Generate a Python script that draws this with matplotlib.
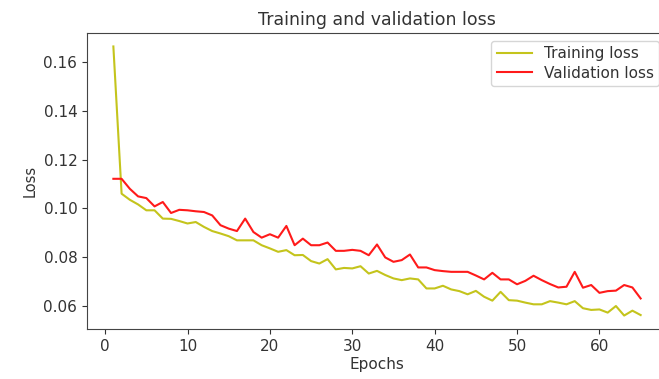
import matplotlib
matplotlib.use("Agg")
import matplotlib.pyplot as plt

epochs = list(range(1, 66))

training_loss = [
    0.1663, 0.1060, 0.1035, 0.1016, 0.0992, 0.0992, 0.0958, 0.0957, 0.0948, 0.0938,
    0.0944, 0.0924, 0.0907, 0.0897, 0.0886, 0.0869, 0.0869, 0.0869, 0.0849, 0.0836,
    0.0822, 0.0829, 0.0808, 0.0809, 0.0784, 0.0774, 0.0792, 0.0750, 0.0756, 0.0754,
    0.0763, 0.0733, 0.0744, 0.0727, 0.0713, 0.0706, 0.0713, 0.0709, 0.0672, 0.0672,
    0.0683, 0.0668, 0.0661, 0.0648, 0.0662, 0.0638, 0.0622, 0.0658, 0.0624, 0.0622,
    0.0614, 0.0607, 0.0607, 0.0620, 0.0614, 0.0607, 0.0620, 0.0591, 0.0584, 0.0586,
    0.0573, 0.0600, 0.0561, 0.0581, 0.0563,
]

validation_loss = [
    0.1121, 0.1121, 0.1080, 0.1049, 0.1042, 0.1008, 0.1026, 0.0981, 0.0994, 0.0992,
    0.0988, 0.0985, 0.0971, 0.0931, 0.0917, 0.0907, 0.0958, 0.0903, 0.0880, 0.0894,
    0.0880, 0.0928, 0.0849, 0.0876, 0.0849, 0.0849, 0.0860, 0.0826, 0.0826, 0.0830,
    0.0826, 0.0808, 0.0852, 0.0799, 0.0781, 0.0788, 0.0811, 0.0758, 0.0758, 0.0747,
    0.0743, 0.0740, 0.0740, 0.0740, 0.0725, 0.0709, 0.0736, 0.0709, 0.0709, 0.0689,
    0.0703, 0.0724, 0.0706, 0.0690, 0.0676, 0.0679, 0.0740, 0.0675, 0.0686, 0.0654,
    0.0661, 0.0663, 0.0686, 0.0676, 0.0631,
]

plt.rcParams['font.size'] = 11
plt.rcParams['text.color'] = '#333333'
plt.rcParams['xtick.color'] = '#333333'
plt.rcParams['ytick.color'] = '#333333'
plt.rcParams['axes.labelcolor'] = '#333333'
plt.rcParams['axes.edgecolor'] = '#444444'

fig = plt.figure(figsize=(6.59, 3.79), dpi=100)
ax = fig.add_axes([87 / 659, 50 / 379, 580 / 659, 296 / 379])
ax.plot(epochs, training_loss, color='#c4c41c', label='Training loss')
ax.plot(epochs, validation_loss, color='#ff1a1a', label='Validation loss')
ax.set_title('Training and validation loss', fontsize=12.5)
ax.set_xlabel('Epochs', labelpad=2)
ax.set_ylabel('Loss', fontsize=10.5)
ax.legend(loc='upper right', handlelength=2.3, borderpad=0.35, labelspacing=0.3)
fig.savefig('out.png', dpi=100)
